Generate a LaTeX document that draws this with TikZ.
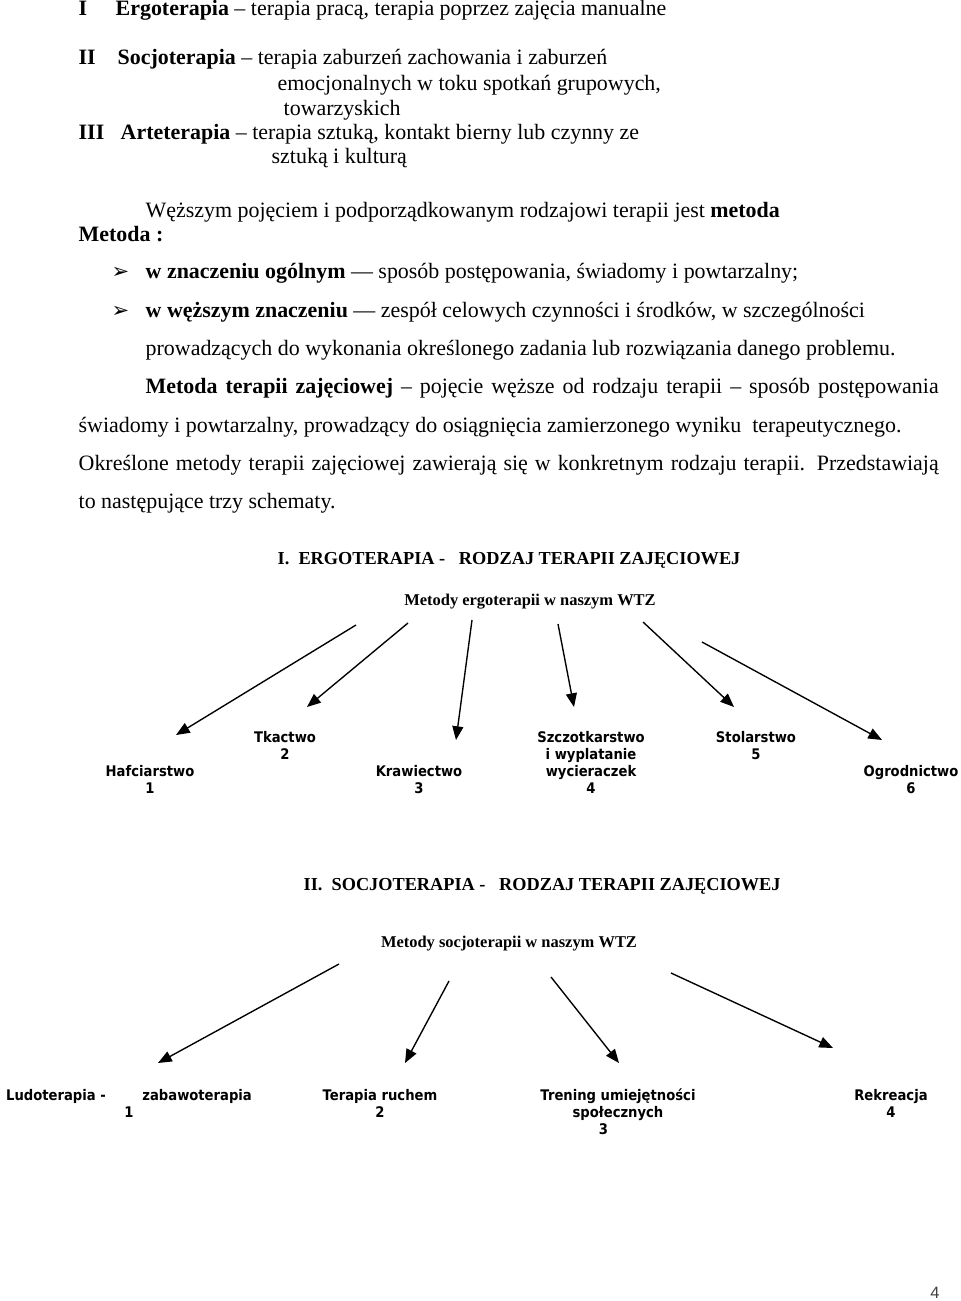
\documentclass[tikz,border=0pt]{standalone}
\usepackage{fontspec}
\setmainfont{Liberation Serif}
\newfontfamily\lblfont[FakeStretch=0.9]{DejaVu Sans}
\newfontfamily\symfont{DejaVu Sans}
\newfontfamily\pgnfont{Liberation Sans}
\usepackage{tikz}
\usetikzlibrary{arrows.meta}
\newdimen\pxu \pxu=0.547pt
\tikzset{
  txt/.style     = { anchor=base west, inner sep=0pt },
  body/.style    = { txt, font=\fontsize{12}{14}\selectfont },
  head/.style    = { txt, font=\bfseries\fontsize{10}{12}\selectfont },
  subhead/.style = { anchor=base, inner sep=0pt, font=\bfseries\fontsize{9}{11}\selectfont },
  bullet/.style  = { txt, font=\symfont\fontsize{11.5}{13}\selectfont },
  method/.style  = { anchor=north, inner sep=0pt, align=center,
                     font=\lblfont\bfseries\fontsize{8}{9.3}\selectfont },
}

\begin{document}
\begin{tikzpicture}[
  x=0.547pt, y=-0.547pt,
  >={Triangle[length=7.5pt,width=6pt]},
  line width=0.75pt
]
  \useasboundingbox (0,0) rectangle (960,1301);

  % kinds of therapy
  \node (nI)    [body] at (78,16)   {\textbf{I}};
  \node (tI)    [body] at (115,16)  {\textbf{Ergoterapia} – terapia pracą, terapia poprzez zajęcia manualne};
  \node (nII)   [body] at (78,65)   {\textbf{II}};
  \node (tII)   [body] at (117,65)  {\textbf{Socjoterapia} – terapia zaburzeń zachowania i zaburzeń};
  \node (tIIb)  [body] at (277,91)  {emocjonalnych w toku spotkań grupowych,};
  \node (tIIc)  [body] at (283,116) {towarzyskich};
  \node (nIII)  [body] at (78,140)  {\textbf{III}};
  \node (tIII)  [body] at (120,140) {\textbf{Arteterapia} – terapia sztuką, kontakt bierny lub czynny ze};
  \node (tIIIb) [body] at (271,164) {sztuką i kulturą};

  % metoda
  \node (wez)  [body]   at (145,218) {Węższym pojęciem i podporządkowanym rodzajowi terapii jest \textbf{metoda}};
  \node (met)  [body]   at (78,242)  {\textbf{Metoda :}};
  \node (b1)   [bullet] at (111,279) {➢};
  \node (ogol) [body]   at (145,279) {\textbf{w znaczeniu ogólnym} — sposób postępowania, świadomy i powtarzalny;};
  \node (b2)   [bullet] at (111,318) {➢};
  \node (wasz) [body]   at (145,318) {\textbf{w węższym znaczeniu} — zespół celowych czynności i środków, w szczególności};
  \node (prow) [body]   at (145,356) {prowadzących do wykonania określonego zadania lub rozwiązania danego problemu.};
  \node (mtz)  [body]   at (145,394) {\makebox[793\pxu][s]{\textbf{Metoda terapii zajęciowej} – pojęcie węższe od rodzaju terapii – sposób postępowania}};
  \node (swi)  [body]   at (78,432)  {świadomy i powtarzalny, prowadzący do osiągnięcia zamierzonego wyniku\ \ terapeutycznego.};
  \node (okr)  [body]   at (78,470)  {\makebox[860\pxu][s]{Określone metody terapii zajęciowej zawierają się w konkretnym rodzaju terapii. Przedstawiają}};
  \node (nast) [body]   at (78,508)  {to następujące trzy schematy.};

  % I. ergoterapia
  \node (hErgo) [head]    at (277,564) {I.\ \ ERGOTERAPIA -\ \ \ RODZAJ TERAPII ZAJĘCIOWEJ};
  \node (mErgo) [subhead] at (530,605) {Metody ergoterapii w naszym WTZ};

  \node (haf) [method] at (150,765) {Hafciarstwo\\1};
  \node (tka) [method] at (285,731) {Tkactwo\\2};
  \node (kra) [method] at (419,765) {Krawiectwo\\3};
  \node (szc) [method] at (591,731) {Szczotkarstwo\\i wyplatanie\\wycieraczek\\4};
  \node (sto) [method] at (756,731) {Stolarstwo\\5};
  \node (ogr) [method] at (911,765) {Ogrodnictwo\\6};

  \coordinate (e1a) at (356,625); \coordinate (e1b) at (176,735);
  \coordinate (e2a) at (408,623); \coordinate (e2b) at (307,707);
  \coordinate (e3a) at (472,620); \coordinate (e3b) at (456,740);
  \coordinate (e4a) at (558,624); \coordinate (e4b) at (574,707);
  \coordinate (e5a) at (643,622); \coordinate (e5b) at (734,707);
  \coordinate (e6a) at (702,642); \coordinate (e6b) at (882,740);

  \draw [->] (e1a) -- (e1b);
  \draw [->] (e2a) -- (e2b);
  \draw [->] (e3a) -- (e3b);
  \draw [->] (e4a) -- (e4b);
  \draw [->] (e5a) -- (e5b);
  \draw [->] (e6a) -- (e6b);

  % II. socjoterapia
  \node (hSocjo) [head]    at (303,890) {II.\ \ SOCJOTERAPIA -\ \ \ RODZAJ TERAPII ZAJĘCIOWEJ};
  \node (mSocjo) [subhead] at (509,947) {Metody socjoterapii w naszym WTZ};

  \node (ludo) [method] at (129,1089) {Ludoterapia -\hspace{20pt}zabawoterapia\\1};
  \node (ruch) [method] at (380,1089) {Terapia ruchem\\2};
  \node (tren) [method] at (618,1088) {Trening umiejętności\\społecznych\\3\hspace*{16pt}};
  \node (rek)  [method] at (891,1089) {Rekreacja\\4};

  \coordinate (s1a) at (339,964); \coordinate (s1b) at (158,1063);
  \coordinate (s2a) at (449,981); \coordinate (s2b) at (405,1063);
  \coordinate (s3a) at (551,977); \coordinate (s3b) at (619,1063);
  \coordinate (s4a) at (671,973); \coordinate (s4b) at (833,1048);

  \draw [->] (s1a) -- (s1b);
  \draw [->] (s2a) -- (s2b);
  \draw [->] (s3a) -- (s3b);
  \draw [->] (s4a) -- (s4b);

  \node (pg) [font=\pgnfont\fontsize{9}{11}\selectfont, text=black!75] at (935,1293) {4};
\end{tikzpicture}
\end{document}
